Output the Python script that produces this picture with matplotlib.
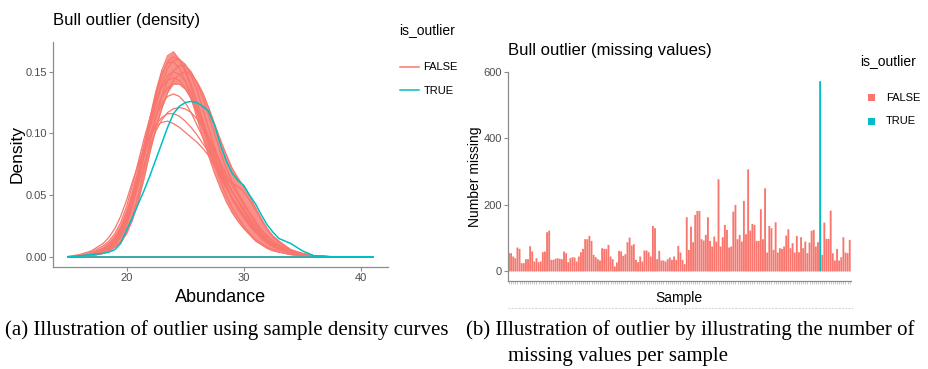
import matplotlib
matplotlib.use("Agg")
import matplotlib.pyplot as plt
from matplotlib.lines import Line2D
from matplotlib.patches import Rectangle
import numpy as np

W, H = 929, 369
RED = "#F8766D"
TEAL = "#00BFC4"
AX_COL = "#8c8c8c"
TICK_TXT = "#4d4d4d"
SANS = ["Liberation Sans", "DejaVu Sans"]
SERIF = ["Liberation Serif", "DejaVu Serif"]

# ---------------- data: density curves (Abundance grid) ----------------
abundance = [15, 16, 17, 18, 18.5, 19, 19.5, 20, 20.5, 21, 21.5, 22, 22.5, 23, 23.5,
             24, 24.5, 25, 25.5, 26, 26.5, 27, 27.5, 28, 28.5, 29, 29.5, 30, 30.5,
             31, 31.5, 32, 32.5, 33, 34, 35, 36, 37, 38, 39, 40, 41]

false_c0 = [0, .0005, .002, .006, .009, .014, .022, .034, .050, .070, .090, .108, .124, .138, .147,
            .150, .148, .142, .133, .121, .108, .094, .081, .068, .057, .047, .039, .032, .026,
            .020, .016, .012, .009, .007, .004, .002, .001, .0004, .0001, 0, 0, 0]
false_c1 = [0, .0003, .0015, .004, .007, .011, .018, .029, .045, .066, .090, .113, .134, .151, .163,
            .166, .160, .150, .137, .122, .106, .090, .075, .062, .050, .040, .032, .025, .019,
            .014, .011, .008, .006, .004, .002, .001, .0004, .0001, 0, 0, 0, 0]
false_c2 = [0, .0005, .002, .005, .008, .012, .019, .030, .045, .064, .085, .106, .125, .141, .153,
            .159, .160, .156, .147, .135, .120, .104, .089, .075, .063, .053, .045, .037, .030,
            .023, .018, .013, .010, .007, .004, .002, .001, .0003, .0001, 0, 0, 0]
false_c3 = [0, .0003, .001, .003, .005, .008, .013, .021, .033, .050, .071, .093, .113, .130, .143,
            .151, .155, .155, .150, .141, .129, .115, .100, .085, .072, .061, .052, .044, .036,
            .029, .022, .017, .013, .009, .005, .002, .001, .0004, .0001, 0, 0, 0]
false_c4 = [.0003, .001, .004, .009, .013, .019, .028, .041, .058, .077, .096, .113, .127, .137, .143,
            .145, .143, .137, .128, .117, .104, .091, .078, .066, .056, .047, .040, .033, .027,
            .021, .016, .012, .009, .007, .004, .002, .001, .0004, .0001, 0, 0, 0]
false_c5 = [.0005, .002, .005, .011, .016, .023, .033, .046, .061, .075, .088, .099, .106, .109, .110,
            .108, .105, .101, .097, .093, .088, .082, .074, .065, .056, .048, .041, .034, .028,
            .022, .017, .013, .010, .007, .004, .002, .001, .0004, .0001, 0, 0, 0]
false_c6 = [0, .0005, .002, .005, .008, .012, .019, .029, .043, .059, .075, .090, .102, .111, .117,
            .120, .121, .120, .117, .112, .105, .097, .087, .077, .067, .058, .050, .042, .035,
            .028, .022, .017, .013, .010, .005, .002, .001, .0004, .0001, 0, 0, 0]
false_c7 = [0, .0005, .002, .005, .008, .012, .019, .030, .045, .063, .082, .099, .114, .124, .130,
            .132, .130, .125, .117, .107, .097, .087, .078, .070, .064, .060, .057, .053, .046,
            .038, .030, .022, .016, .012, .006, .003, .001, .0004, .0001, 0, 0, 0]
false_c8 = [0, .0002, .001, .004, .006, .010, .017, .028, .044, .065, .089, .112, .132, .148, .157,
            .158, .153, .143, .129, .113, .097, .082, .068, .056, .045, .036, .029, .023, .018,
            .013, .010, .007, .005, .004, .002, .001, .0003, .0001, 0, 0, 0, 0]
false_c9 = [0, .0003, .001, .003, .005, .008, .012, .019, .030, .045, .064, .085, .104, .120, .133,
            .143, .148, .150, .148, .142, .133, .121, .108, .095, .083, .072, .064, .057, .049,
            .040, .031, .023, .017, .013, .006, .003, .001, .0005, .0002, 0, 0, 0]
false_c10 = [0, .0005, .002, .006, .009, .014, .022, .034, .050, .069, .088, .105, .119, .130, .137,
             .140, .140, .136, .129, .120, .109, .097, .085, .073, .062, .053, .045, .037, .030,
             .024, .019, .014, .011, .008, .004, .002, .001, .0004, .0001, 0, 0, 0]
false_c11 = [0, .001, .003, .007, .011, .016, .024, .036, .051, .067, .083, .097, .107, .113, .116,
             .116, .114, .110, .105, .099, .092, .085, .077, .069, .061, .053, .046, .039, .032,
             .026, .020, .015, .011, .008, .004, .002, .001, .0004, .0001, 0, 0, 0]
false_c12 = [0, .0003, .0013, .004, .006, .010, .016, .026, .041, .061, .085, .109, .130, .147, .158,
             .162, .160, .152, .140, .126, .111, .096, .082, .069, .058, .048, .039, .032, .025,
             .020, .015, .011, .008, .006, .003, .001, .0005, .0002, 0, 0, 0, 0]
true_curve = [0, .001, .002, .003, .004, .006, .011, .022, .032, .043, .054, .066, .079, .092, .105,
              .116, .122, .125, .126, .125, .122, .118, .107, .091, .078, .068, .062, .058, .050,
              .043, .034, .026, .020, .015, .011, .005, .001, .0005, 0, 0, 0, 0]

false_curves = [false_c5, false_c11, false_c6, false_c7, false_c4, false_c10, false_c9, false_c0,
                false_c3, false_c8, false_c2, false_c12, false_c1]
main_band = [false_c0, false_c1, false_c2, false_c3, false_c4, false_c8, false_c9, false_c10, false_c12]

# ---------------- data: missing values per sample ----------------
n_missing = [55, 55, 45, 40, 72, 68, 25, 25, 37, 37,
             76, 60, 30, 40, 28, 30, 58, 60, 118, 123,
             35, 35, 38, 40, 38, 37, 60, 55, 28, 40,
             43, 42, 30, 45, 58, 68, 97, 97, 107, 92,
             50, 43, 37, 33, 70, 68, 68, 80, 45, 37,
             15, 27, 62, 60, 47, 52, 88, 102, 78, 82,
             35, 28, 45, 30, 63, 63, 58, 45, 137, 130,
             37, 62, 33, 33, 30, 37, 42, 35, 45, 35,
             77, 57, 35, 22, 163, 65, 135, 88, 170, 182,
             182, 97, 93, 110, 163, 92, 75, 105, 90, 277,
             75, 103, 140, 125, 72, 75, 180, 200, 97, 110,
             90, 212, 112, 307, 123, 143, 140, 92, 92, 187,
             97, 250, 57, 137, 130, 65, 148, 57, 70, 68,
             75, 108, 127, 70, 85, 57, 107, 58, 103, 70,
             90, 55, 87, 122, 125, 75, 88, 572, 50, 147,
             98, 98, 183, 55, 33, 68, 33, 43, 103, 57,
             55, 95]
outlier_sample = 147  # zero-based index of the TRUE sample

# ---------------- figure ----------------
fig = plt.figure(figsize=(W / 100, H / 100), dpi=100)


def fx(x):
    return x / W


def fy(y):
    return 1 - y / H


def style_axes(ax):
    for s in ["top", "right"]:
        ax.spines[s].set_visible(False)
    for s in ["left", "bottom"]:
        ax.spines[s].set_color(AX_COL)
        ax.spines[s].set_linewidth(0.9)
    ax.tick_params(colors=AX_COL, labelcolor=TICK_TXT, length=2.8, width=0.8, labelsize=8, pad=1.3)
    for lab in ax.get_xticklabels() + ax.get_yticklabels():
        lab.set_family(SANS)


# ---- left: density ----
ax1 = fig.add_axes([fx(52.7), fy(267.3), fx(388 - 52.7), (267.3 - 41.7) / H])
xa = np.array(abundance)
band = np.array(main_band)
ax1.fill_between(xa, band.min(axis=0), band.max(axis=0), color=RED, alpha=0.8, lw=0)
for c in false_curves:
    ax1.plot(list(abundance) + list(abundance[::-1]), list(c) + [0] * len(c),
             color=RED, lw=0.9, solid_joinstyle="round")
ax1.plot(list(abundance) + list(abundance[::-1]), list(true_curve) + [0] * len(true_curve),
         color=TEAL, lw=1.1, solid_joinstyle="round")
ax1.set_xlim(13.7, 42.3)
ax1.set_ylim(-0.0083, 0.1743)
ax1.set_xticks([20, 30, 40])
ax1.set_yticks([0, 0.05, 0.10, 0.15])
ax1.set_yticklabels(["0.00", "0.05", "0.10", "0.15"])
style_axes(ax1)

fig.text(fx(53.3), fy(20.7), "Bull outlier (density)", family=SANS, fontsize=12, va="center", ha="left")
fig.text(fx(17), fy(153.8), "Density", family=SANS, fontsize=12.5, va="center", ha="center", rotation=90)
fig.text(fx(220.8), fy(297.7), "Abundance", family=SANS, fontsize=13, va="center", ha="center")

# left legend
fig.text(fx(399.5), fy(30), "is_outlier", family=SANS, fontsize=10, va="center", ha="left")
for yy, col, lab in [(66.5, RED, "FALSE"), (90, TEAL, "TRUE")]:
    fig.add_artist(Line2D([fx(400), fx(419.5)], [fy(yy), fy(yy)], color=col, lw=1.1))
    fig.text(fx(423.3), fy(yy + 1), lab, family=SANS, fontsize=8, va="center", ha="left")

# ---- right: missing values ----
ax2 = fig.add_axes([fx(507.7), fy(281), fx(851 - 507.7), (281 - 71.7) / H])
idx = np.arange(len(n_missing))
colors = [TEAL if i == outlier_sample else RED for i in idx]
bars = ax2.bar(idx, n_missing, width=0.88, color=colors, linewidth=0)
for b in bars:
    b.set_snap(False)
ax2.set_xlim(-0.6, len(n_missing) - 0.4)
ax2.set_ylim(-28.6, 600.6)
ax2.set_yticks([0, 200, 400, 600])
ax2.set_xticks(idx)
ax2.set_xticklabels([])
style_axes(ax2)
ax2.tick_params(axis="x", length=2.5, width=0.4, colors="#a0a0a0")

fig.text(fx(508), fy(51), "Bull outlier (missing values)", family=SANS, fontsize=12, va="center", ha="left")
fig.text(fx(475.5), fy(176.7), "Number missing", family=SANS, fontsize=10, va="center", ha="center", rotation=90)
fig.text(fx(679), fy(298.3), "Sample", family=SANS, fontsize=10, va="center", ha="center")
fig.add_artist(Line2D([fx(508), fx(853)], [fy(308), fy(308)], color="#d9d9d9", lw=0.8, ls=(0, (2, 1))))

# right legend
fig.text(fx(860), fy(61), "is_outlier", family=SANS, fontsize=10, va="center", ha="left")
for yy, col, lab in [(97.7, RED, "FALSE"), (121.3, TEAL, "TRUE")]:
    fig.add_artist(Rectangle((fx(868.3), fy(yy + 3.4)), 6.8 / W, 6.8 / H, color=col, lw=0))
    fig.text(fx(885.7), fy(yy), lab, family=SANS, fontsize=8, va="center", ha="left")

# captions
fig.text(fx(5), fy(330), "(a) Illustration of outlier using sample density curves",
         family=SERIF, fontsize=15, va="center", ha="left")
fig.text(fx(466), fy(330), "(b) Illustration of outlier by illustrating the number of",
         family=SERIF, fontsize=15, va="center", ha="left")
fig.text(fx(508), fy(357), "missing values per sample",
         family=SERIF, fontsize=15, va="center", ha="left")

fig.savefig("out.png", dpi=100)
